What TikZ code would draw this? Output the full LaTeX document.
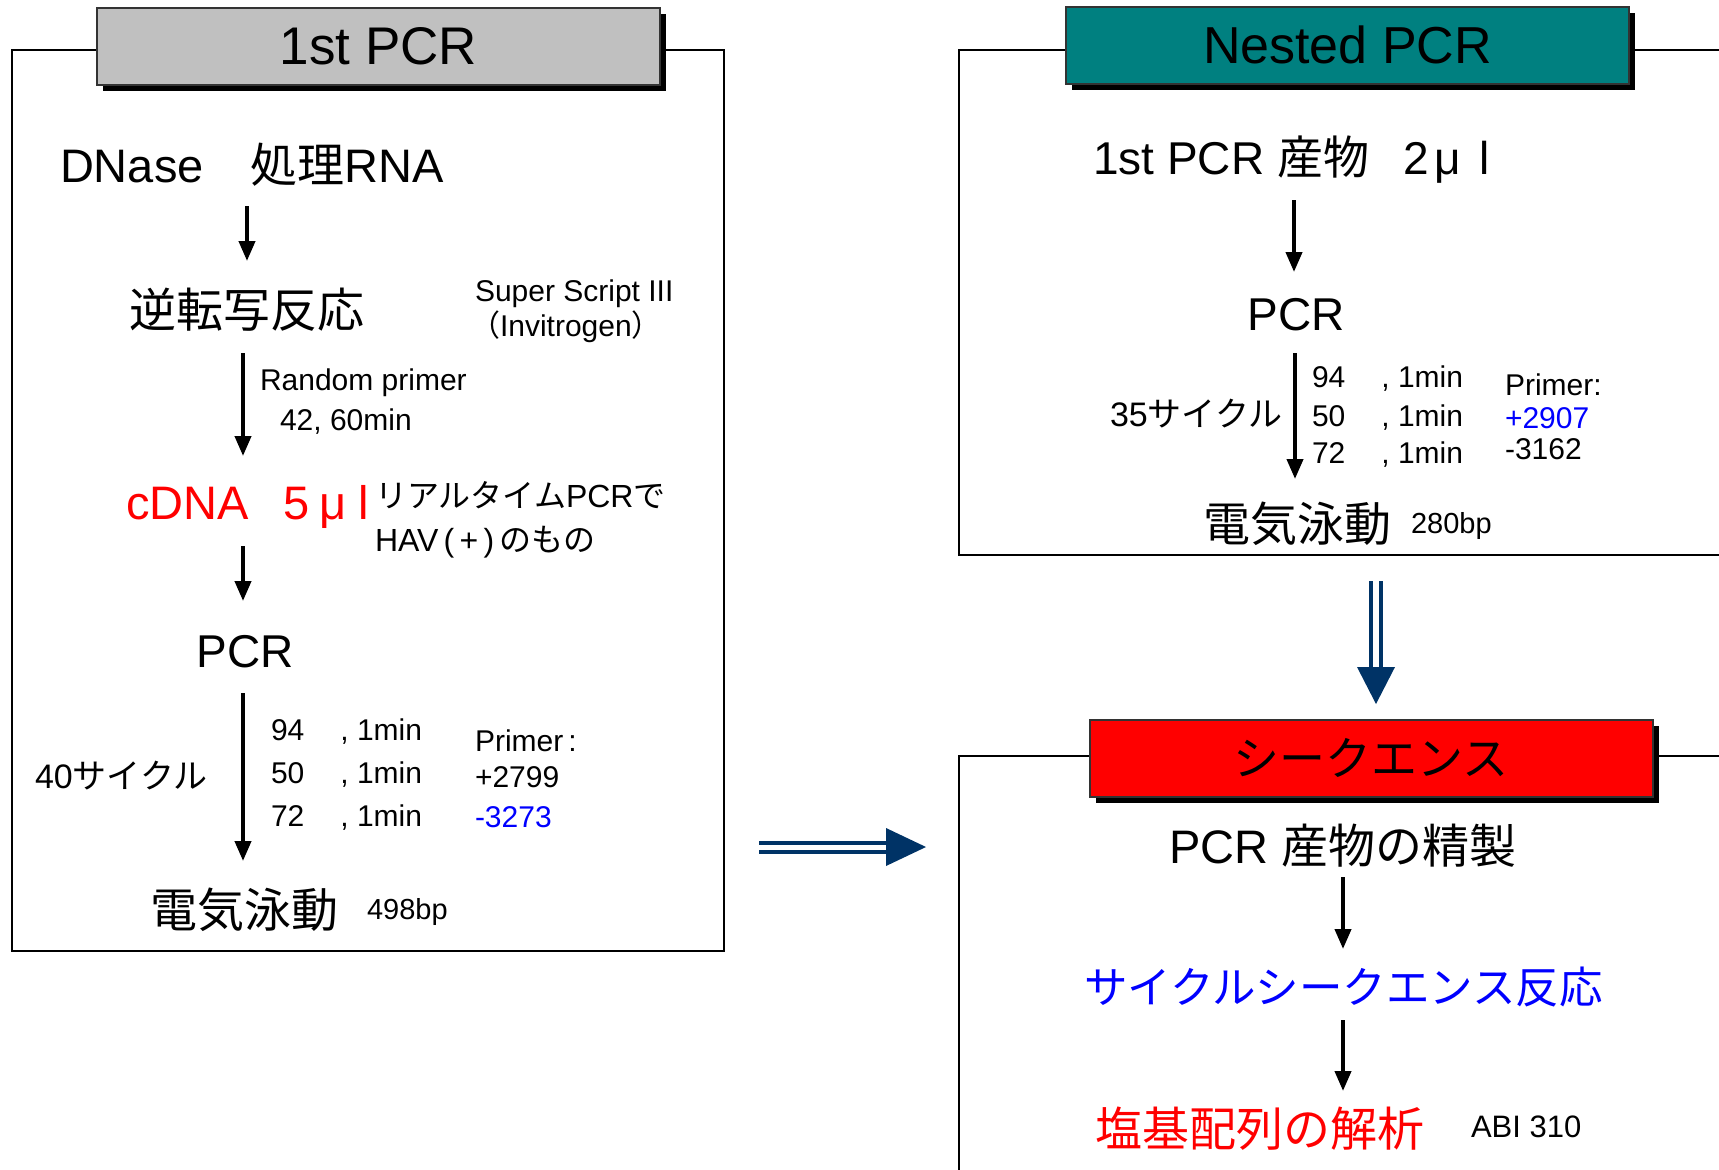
\documentclass[tikz,border=0pt]{standalone}
\usepackage{fontspec}
\setmainfont{Liberation Sans}
\newfontfamily\jp{Noto Sans CJK JP}
\usetikzlibrary{arrows.meta,shadows}
\newcommand\fsz[1]{\fontsize{#1}{#1}\selectfont}
\definecolor{tgray}{HTML}{C0C0C0}
\definecolor{tteal}{HTML}{008080}
\definecolor{tred}{HTML}{FF0000}
\definecolor{tblue}{HTML}{0000FF}
\definecolor{navy}{HTML}{003366}
\tikzset{
  frame/.style={line width=2pt, draw=black},
  titlebox/.style={draw=black!80, line width=2pt, minimum width=563pt, minimum height=77pt, inner sep=0pt,
    drop shadow={shadow xshift=6pt, shadow yshift=-6pt, fill=black, opacity=1}},
  txt/.style={inner sep=0pt, outer sep=0pt},
  arr/.style={line width=4pt, -{Triangle[width=16pt,length=20pt]}},
  navyline/.style={line width=4pt, draw=navy},
}
\begin{document}
\begin{tikzpicture}[x=1pt,y=-1pt]
\useasboundingbox (0,0) rectangle (1719,1170);

% ---------- frames ----------
\draw[frame] (12,50) rectangle (724,951);
\draw[frame] (1730,50) -- (959,50) -- (959,555) -- (1730,555);
\draw[frame] (1730,756) -- (959,756) -- (959,1180);

% ---------- titles ----------
\node[titlebox, fill=tgray] (t1) at (378.5,46) {\fsz{53}1st PCR};
\node[titlebox, fill=tteal] (t2) at (1347.5,45) {\fsz{52}Nested PCR};
\node[titlebox, fill=tred] (t3) at (1371,758) {\jp\fsz{46}シークエンス};

% ---------- left box ----------
\node[txt, anchor=west] (dnase) at (60,165) {\fsz{47}DNase{\jp 　処理}RNA};
\node[txt] (rt) at (246.5,310) {\jp\fsz{47}逆転写反応};
\node[txt, anchor=west] (ss) at (475,294) {\fsz{30}Super Script III};
\node[txt, anchor=west] (inv) at (470,327) {\fsz{30}{\jp （}Invitrogen{\jp ）}};
\node[txt, anchor=west] (rp) at (260,383) {\fsz{30}Random primer};
\node[txt, anchor=west] (t42) at (280,422) {\fsz{30}42, 60min};
\node[txt, anchor=west, text=tred] (cdna) at (126,507) {\fsz{47}cDNA\hspace{35pt}5\hspace{10pt}μ\hspace{12pt}l};
\node[txt, anchor=west] (rtpcr) at (375,495) {\fsz{32}{\jp リアルタイム}PCR{\jp で}};
\node[txt, anchor=west] (hav) at (375,542) {\fsz{32}HAV\,(\,+\,)\,{\jp のもの}};
\node[txt] (pcr1) at (245.5,652) {\fsz{46}PCR};
\node[txt, anchor=west] (cyc40) at (35,776) {\fsz{34}40{\jp サイクル}};
\node[txt, anchor=west] (c1a) at (271,732) {\fsz{30}94\hspace{36pt}, 1min};
\node[txt, anchor=west] (c1b) at (271,775) {\fsz{30}50\hspace{36pt}, 1min};
\node[txt, anchor=west] (c1c) at (271,818) {\fsz{30}72\hspace{36pt}, 1min};
\node[txt, anchor=west] (pr1) at (475,741) {\fsz{30}Primer\,:};
\node[txt, anchor=west] (pr1a) at (475,777) {\fsz{30}+2799};
\node[txt, anchor=west, text=tblue] (pr1b) at (475,817) {\fsz{30}-3273};
\node[txt] (ep1) at (244,910) {\jp\fsz{47}電気泳動};
\node[txt, anchor=west] (bp1) at (367,912) {\fsz{29}498bp};

\coordinate (l1s) at (247,206); \coordinate (l1e) at (247,261);
\coordinate (l2s) at (243,353); \coordinate (l2e) at (243,456);
\coordinate (l3s) at (243,546); \coordinate (l3e) at (243,601);
\coordinate (l4s) at (243,693); \coordinate (l4e) at (243,861);
\draw[arr] (l1s) -- (l1e);
\draw[arr] (l2s) -- (l2e);
\draw[arr] (l3s) -- (l3e);
\draw[arr] (l4s) -- (l4e);

% ---------- nested box ----------
\node[txt, anchor=west] (p1) at (1093,160) {\fsz{46}1st PCR {\jp 産物}\hspace{34pt}2\hspace{6pt}μ\hspace{18pt}l};
\node[txt] (pcr2) at (1296.5,315) {\fsz{46}PCR};
\node[txt, anchor=west] (cyc35) at (1110,414) {\fsz{34}35{\jp サイクル}};
\node[txt, anchor=west] (c2a) at (1312,379) {\fsz{30}94\hspace{36pt}, 1min};
\node[txt, anchor=west] (c2b) at (1312,418) {\fsz{30}50\hspace{36pt}, 1min};
\node[txt, anchor=west] (c2c) at (1312,455) {\fsz{30}72\hspace{36pt}, 1min};
\node[txt, anchor=west] (pr2) at (1505,385) {\fsz{30}Primer:};
\node[txt, anchor=west, text=tblue] (pr2a) at (1505,418) {\fsz{30}+2907};
\node[txt, anchor=west] (pr2b) at (1505,449) {\fsz{30}-3162};
\node[txt] (ep2) at (1297,524) {\jp\fsz{47}電気泳動};
\node[txt, anchor=west] (bp2) at (1411,526) {\fsz{29}280bp};

\coordinate (r1s) at (1294,200); \coordinate (r1e) at (1294,272);
\coordinate (r2s) at (1295,353); \coordinate (r2e) at (1295,479);
\draw[arr] (r1s) -- (r1e);
\draw[arr] (r2s) -- (r2e);

% ---------- sequence box ----------
\node[txt] (pur) at (1343,846) {\fsz{47}PCR {\jp 産物の精製}};
\node[txt, text=tblue] (csr) at (1343.5,987) {\jp\fsz{43.5}サイクルシークエンス反応};
\node[txt, text=tred] (seqa) at (1259.5,1129) {\jp\fsz{47}塩基配列の解析};
\node[txt, anchor=west] (abi) at (1471,1127) {\fsz{31}ABI 310};

\coordinate (s1s) at (1343,877); \coordinate (s1e) at (1343,949);
\coordinate (s2s) at (1343,1020); \coordinate (s2e) at (1343,1091);
\draw[arr] (s1s) -- (s1e);
\draw[arr] (s2s) -- (s2e);

% ---------- big navy arrows ----------
\coordinate (dvs) at (1376,581); \coordinate (dvb) at (1376,667); \coordinate (dvt) at (1376,704);
\draw[navyline] ([xshift=-5pt]dvs) -- ([xshift=-5pt]dvb);
\draw[navyline] ([xshift=5pt]dvs) -- ([xshift=5pt]dvb);
\fill[navy] ([xshift=-19pt]dvb) -- ([xshift=19pt]dvb) -- (dvt) -- cycle;

\coordinate (dhs) at (759,847); \coordinate (dhb) at (886,847); \coordinate (dht) at (926,847);
\draw[navyline] ([yshift=4.5pt]dhs) -- ([yshift=4.5pt]dhb);
\draw[navyline] ([yshift=-4.5pt]dhs) -- ([yshift=-4.5pt]dhb);
\fill[navy] ([yshift=19pt]dhb) -- ([yshift=-19pt]dhb) -- (dht) -- cycle;
\end{tikzpicture}
\end{document}
